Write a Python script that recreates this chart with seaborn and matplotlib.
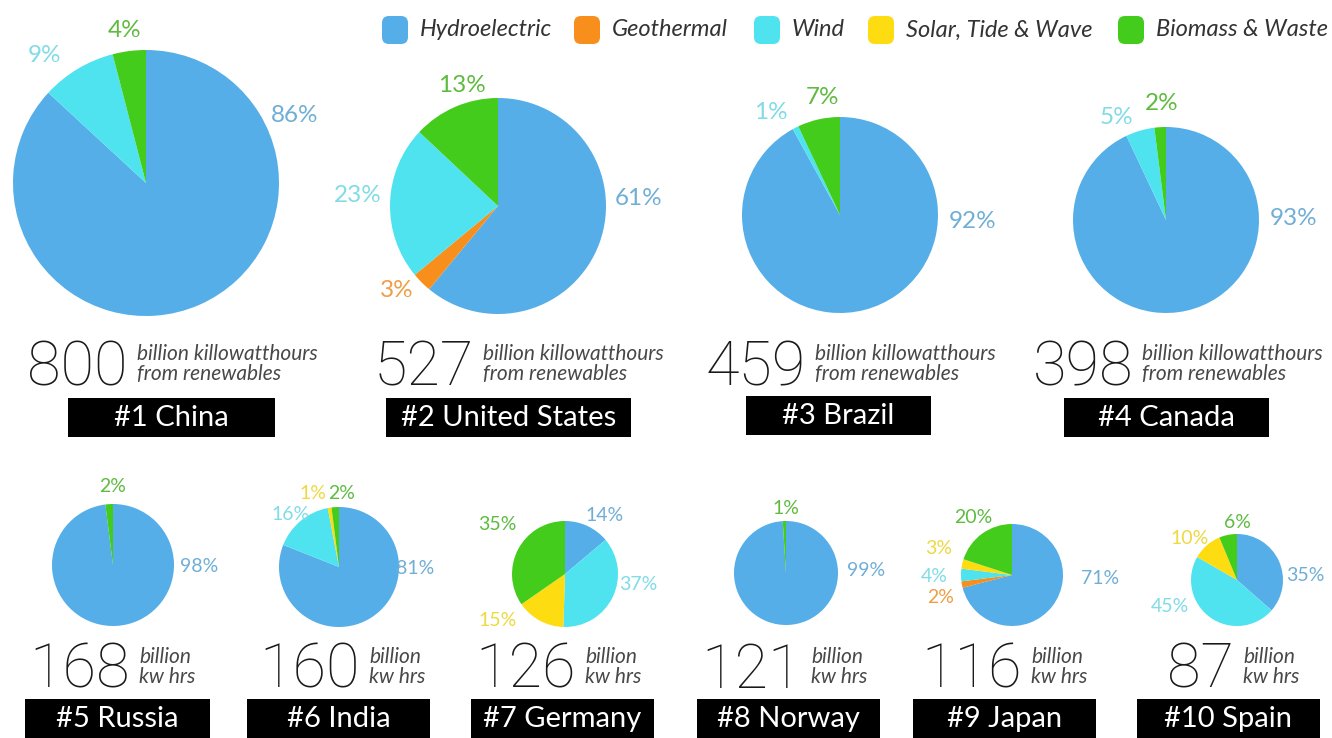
import matplotlib
matplotlib.use("Agg")
import matplotlib.pyplot as plt
from matplotlib.patches import FancyBboxPatch, Rectangle
import seaborn as sns

# ---- data -------------------------------------------------------------
sources = ["Hydroelectric", "Geothermal", "Wind", "Solar, Tide & Wave", "Biomass & Waste"]
countries = ["China", "United States", "Brazil", "Canada", "Russia",
             "India", "Germany", "Norway", "Japan", "Spain"]
totals = [800, 527, 459, 398, 168, 160, 126, 121, 116, 87]
hydro = [86, 61, 92, 93, 98, 81, 14, 99, 71, 35]
geothermal = [0, 3, 0, 0, 0, 0, 0, 0, 2, 0]
wind = [9, 23, 1, 5, 0, 16, 37, 0, 4, 45]
solar = [0, 0, 0, 0, 0, 1, 15, 0, 3, 10]
biomass = [4, 13, 7, 2, 2, 2, 35, 1, 20, 6]

# ---- styling ------------------------------------------------------------
sns.set_theme(style="white")
plt.rcParams["font.family"] = ["Lato", "DejaVu Sans"]
NUMBER_FONT = ["Roboto", "Lato", "DejaVu Sans"]

wedge_colors = sns.color_palette(["#55AEE8", "#F88E1C", "#4FE3F0", "#FDDC12", "#44CC1C"])
label_colors = sns.color_palette(["#70AED6", "#EE9E45", "#80DCE6", "#EDD942", "#5EBB40"])

W, H = 1332, 738

# pie centre (x, y from top) and radius, in pixels
pie_layout = [
    (146, 183, 133), (498, 206, 108), (840, 215, 98), (1166, 220, 93),
    (113, 565, 61), (339, 567, 60), (565, 574, 53), (786, 573, 52),
    (1012, 575, 51), (1237, 580, 46),
]
# percentage label offsets in units of the pie radius, one per non-zero slice
label_offsets = [
    [(1.12, 0.51), (-0.76, 0.96), (-0.16, 1.15)],
    [(1.30, 0.07), (-0.94, -0.78), (-1.30, 0.10), (-0.33, 1.12)],
    [(1.35, -0.07), (-0.71, 1.05), (-0.18, 1.20)],
    [(1.37, 0.02), (-0.53, 1.10), (-0.05, 1.25)],
    [(1.41, -0.03), (0.0, 1.28)],
    [(1.27, -0.02), (-0.80, 0.88), (-0.44, 1.23), (0.05, 1.23)],
    [(0.74, 1.11), (1.38, -0.19), (-1.28, -0.87), (-1.28, 0.94)],
    [(1.54, 0.04), (0.0, 1.25)],
    [(1.73, -0.06), (-1.41, -0.45), (-1.53, -0.02), (-1.43, 0.51), (-0.75, 1.12)],
    [(1.48, 0.09), (-1.46, -0.57), (-1.02, 0.91), (0.02, 1.26)],
]
# left edge of the unit caption
caption_x = [137, 483, 815, 1142, 139, 369, 585, 811, 1031, 1243]
# name boxes: x0, x1, y0 (from top), height
box_layout = [
    (68, 275, 398, 39), (386, 631, 398, 39), (746, 931, 396, 39), (1064, 1269, 398, 39),
    (25, 210, 699, 42), (247, 430, 699, 42), (471, 654, 699, 42), (697, 880, 699, 42),
    (913, 1096, 699, 42), (1137, 1320, 699, 42),
]
legend_x = [382, 574, 754, 868, 1118]


def Y(py):
    return H - py


fig = plt.figure(figsize=(W / 100, H / 100), dpi=100)
ax = fig.add_axes([0, 0, 1, 1])

for i, country in enumerate(countries):
    cx, cy, r = pie_layout[i]
    shares = [hydro[i], geothermal[i], wind[i], solar[i], biomass[i]]
    idx = [k for k, v in enumerate(shares) if v > 0]
    vals = [shares[k] for k in idx]
    ax.pie(vals, colors=[wedge_colors[k] for k in idx], startangle=90,
           counterclock=False, center=(cx, Y(cy)), radius=r, frame=True,
           normalize=True, wedgeprops=dict(linewidth=0))

    top_row = i < 4
    fs = 17.5 if top_row else 14
    for (dx, dy), k, v in zip(label_offsets[i], idx, vals):
        ax.text(cx + dx * r, Y(cy) + dy * r, f"{v}%", color=label_colors[k],
                fontsize=fs, ha="center", va="center")

    # big total and unit caption
    x_cap = caption_x[i]
    base = 385 if top_row else 688
    ax.text(x_cap - 9, Y(base), f"{totals[i]}", fontsize=44, fontweight="light",
            family=NUMBER_FONT, color="#1a1a1a", ha="right", va="baseline")
    if top_row:
        lines = ["billion killowatthours", "from renewables"]
        base1 = 360
    else:
        lines = ["billion", "kw hrs"]
        base1 = 663
    for j, line in enumerate(lines):
        ax.text(x_cap, Y(base1 + 20 * j), line, fontsize=15, style="italic",
                color="#484848", ha="left", va="baseline")

    # black name box
    x0, x1, y0, bh = box_layout[i]
    ax.add_patch(Rectangle((x0, Y(y0 + bh)), x1 - x0, bh, color="black", lw=0))
    ax.text((x0 + x1) / 2, Y(y0 + 20), f"#{i + 1} {country}", color="white",
            fontsize=21, ha="center", va="center")

# legend row
for k, name in enumerate(sources):
    x = legend_x[k]
    ax.add_patch(FancyBboxPatch((x, Y(44)), 26, 28,
                                boxstyle="round,pad=0,rounding_size=7",
                                color=wedge_colors[k], lw=0))
    ax.text(x + 38, Y(30), name, fontsize=17, style="italic",
            color="#333333", ha="left", va="center")

ax.set_xlim(0, W)
ax.set_ylim(0, H)
ax.set_aspect("equal")
ax.axis("off")
fig.savefig("out.png", dpi=100, facecolor="white")
